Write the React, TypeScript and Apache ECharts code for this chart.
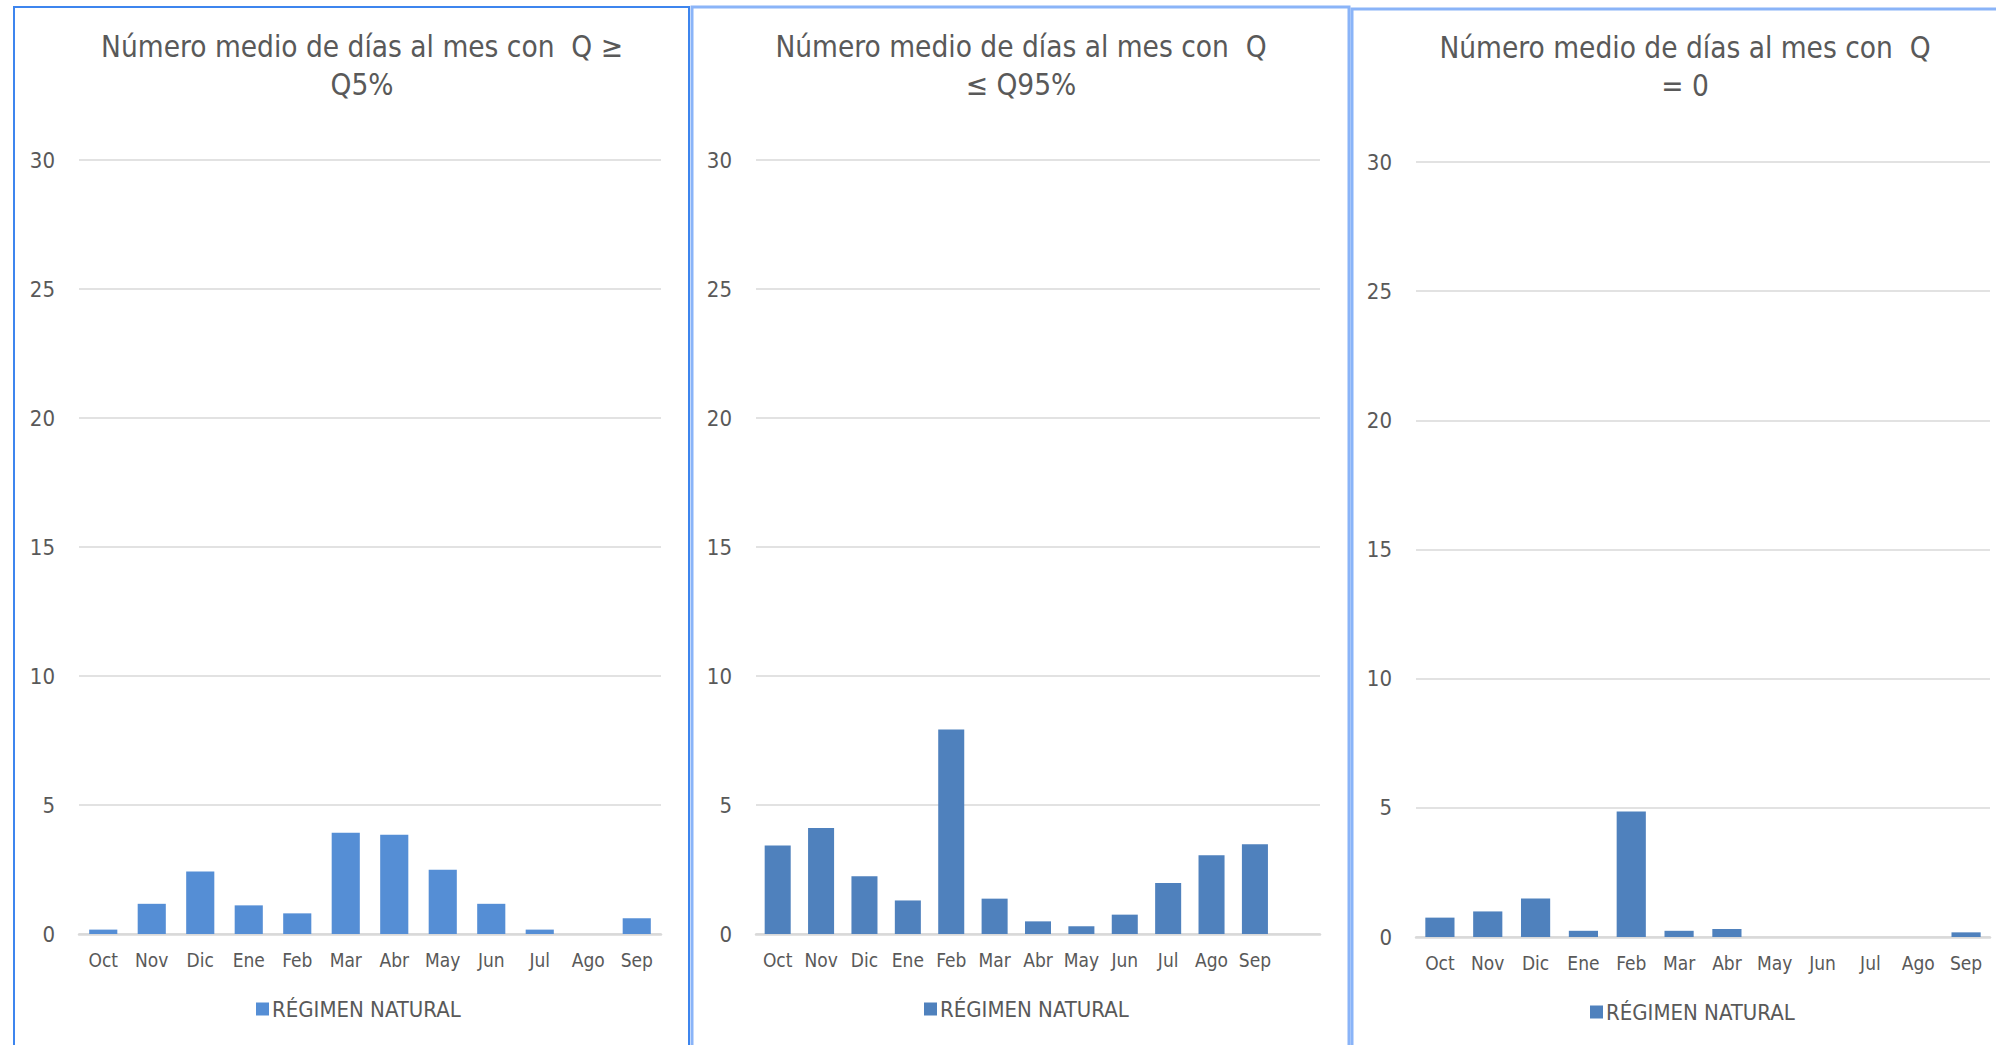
import React, { useEffect, useRef } from "react";
import * as echarts from "echarts";

const months = ["Oct", "Nov", "Dic", "Ene", "Feb", "Mar", "Abr", "May", "Jun", "Jul", "Ago", "Sep"];
const monthsPanel2 = [...months, ""];
const seriesName = "RÉGIMEN NATURAL";

const valuesQ5 = [0.17, 1.17, 2.42, 1.11, 0.8, 3.92, 3.85, 2.49, 1.17, 0.17, 0, 0.61];
const valuesQ95 = [3.43, 4.11, 2.24, 1.3, 7.93, 1.37, 0.49, 0.3, 0.75, 1.98, 3.05, 3.48];
const valuesQ0 = [0.75, 0.99, 1.49, 0.24, 4.86, 0.24, 0.31, 0, 0, 0, 0, 0.18];

const titles = [
  "Número medio de días al mes con  Q ≥\nQ5%",
  "Número medio de días al mes con  Q\n≤ Q95%",
  "Número medio de días al mes con  Q\n= 0",
];

const yMin = 0;
const yMax = 30;
const yInterval = 5;

const FONT = "'Liberation Sans Narrow', 'Arial Narrow', 'DejaVu Sans Condensed', sans-serif";
const TEXT = "#595959";
const GRID = "#d9d9d9";
const C1 = "#558ed5";
const C2 = "#4f81bd";

export default function App() {
  const ref = useRef<HTMLDivElement>(null);
  useEffect(() => {
    if (!ref.current) return;
    const chart = echarts.init(ref.current, undefined, { renderer: "svg" });
    const panels = [
      { left: 79, width: 582, top: 160, height: 774, cats: months, data: valuesQ5, color: C1, titleX: 357, titleTop: 23, legendLeft: 251, legendTop: 993, gap: "42%" },
      { left: 756, width: 564, top: 160, height: 774, cats: monthsPanel2, data: valuesQ95, color: C2, titleX: 1016, titleTop: 23, legendLeft: 919, legendTop: 993, gap: "40%" },
      { left: 1416, width: 574, top: 162, height: 775, cats: months, data: valuesQ0, color: C2, titleX: 1680, titleTop: 24, legendLeft: 1585, legendTop: 996, gap: "39%" },
    ];
    const option: any = {
      animation: false,
      backgroundColor: "#ffffff",
      title: panels.map((p, i) => ({
        text: titles[i],
        left: p.titleX,
        top: p.titleTop,
        textAlign: "center",
        textStyle: { fontFamily: FONT, fontSize: 29.5, fontWeight: "normal", color: TEXT, lineHeight: 38 },
      })),
      legend: panels.map((p, i) => ({
        left: p.legendLeft,
        top: p.legendTop,
        icon: "rect",
        itemWidth: 13,
        itemHeight: 13,
        selectedMode: false,
        data: [{ name: seriesName, itemStyle: { color: p.color } }],
        textStyle: { fontFamily: FONT, fontSize: 22, color: TEXT, padding: [0, 0, 0, -2] },
      })),
      grid: panels.map((p) => ({ left: p.left, width: p.width, top: p.top, height: p.height, containLabel: false })),
      xAxis: panels.map((p, i) => ({
        type: "category",
        gridIndex: i,
        data: p.cats,
        axisLine: { show: true, lineStyle: { color: GRID, width: 2.5 } },
        axisTick: { show: false },
        axisLabel: { fontFamily: FONT, fontSize: 19, color: TEXT, margin: 16, interval: 0 },
      })),
      yAxis: panels.map((p, i) => ({
        type: "value",
        gridIndex: i,
        min: yMin,
        max: yMax,
        interval: yInterval,
        axisLine: { show: false },
        axisTick: { show: false },
        splitLine: { lineStyle: { color: GRID, width: 1.5 } },
        axisLabel: { fontFamily: FONT, fontSize: 22, color: TEXT, margin: 24 },
      })),
      series: panels.map((p, i) => ({
        name: seriesName,
        type: "bar",
        xAxisIndex: i,
        yAxisIndex: i,
        data: p.data,
        barCategoryGap: p.gap,
        itemStyle: { color: p.color },
      })),
      graphic: [
        { type: "rect", shape: { x: 14, y: 7, width: 675, height: 1060 }, style: { fill: "none", stroke: "#3d85ee", lineWidth: 2 }, z: 100 },
        { type: "rect", shape: { x: 692, y: 7, width: 657, height: 1060 }, style: { fill: "none", stroke: "#8ab4f8", lineWidth: 3 }, z: 100 },
        { type: "rect", shape: { x: 1352, y: 9, width: 700, height: 1060 }, style: { fill: "none", stroke: "#8ab4f8", lineWidth: 3 }, z: 100 },
      ],
    };
    chart.setOption(option);
    return () => chart.dispose();
  }, []);
  return <div ref={ref} style={{ position: "fixed", left: 0, top: 0, width: 1996, height: 1045 }} />;
}
